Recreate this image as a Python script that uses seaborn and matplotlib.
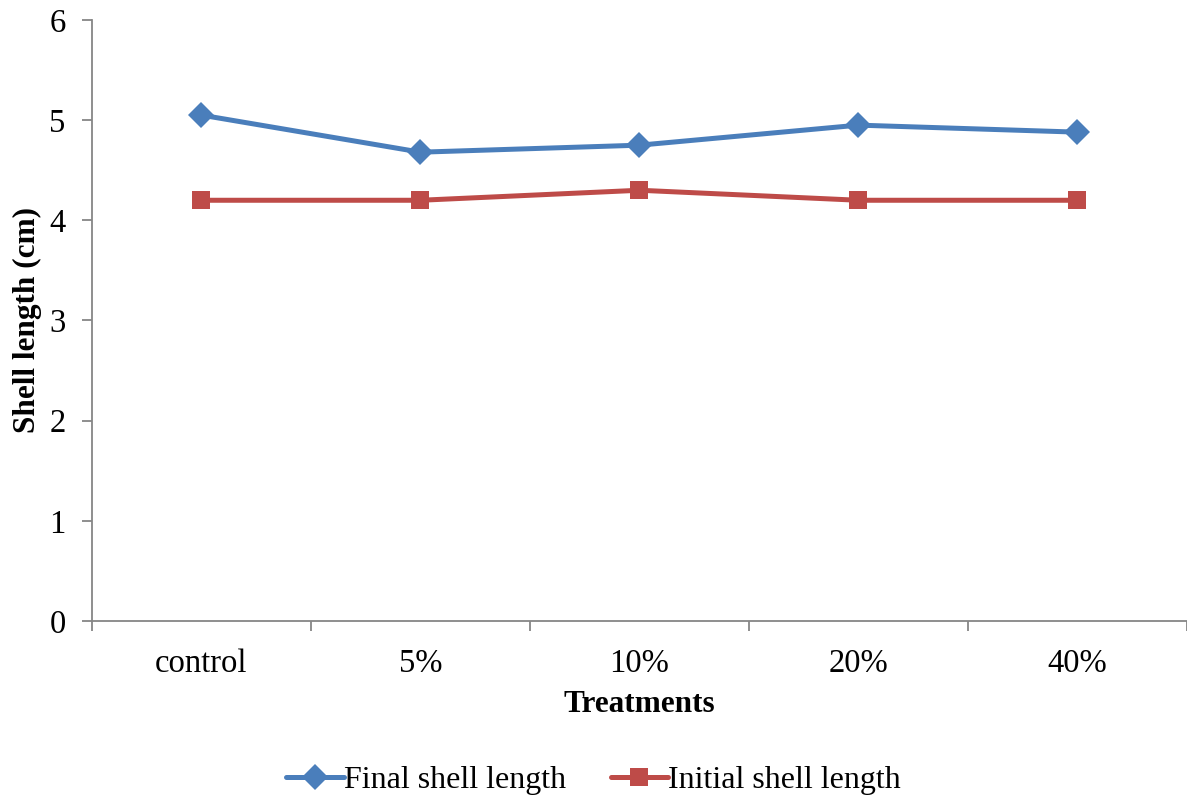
import pandas as pd
import numpy as np
import matplotlib.pyplot as plt
import seaborn as sns

treatments = ['control', '5%', '10%', '20%', '40%']
final_length = [5.05, 4.68, 4.75, 4.95, 4.88]
initial_length = [4.2, 4.2, 4.3, 4.2, 4.2]

sns.set_style('white')
plt.rcParams['font.family'] = ['Liberation Serif', 'DejaVu Serif']
plt.rcParams['text.color'] = 'black'
plt.rcParams['axes.labelcolor'] = 'black'
plt.rcParams['xtick.color'] = 'black'
plt.rcParams['ytick.color'] = 'black'

df = pd.DataFrame({
    'Treatments': treatments * 2,
    'Shell length (cm)': final_length + initial_length,
    'series': ['Final shell length'] * 5 + ['Initial shell length'] * 5,
})

fig = plt.figure(figsize=(11.87, 7.98), dpi=100)
ax = fig.add_axes([0.0775, 0.2218, 0.9225, 0.7532])

sns.lineplot(data=df, x='Treatments', y='Shell length (cm)', hue='series', style='series',
             markers={'Final shell length': 'D', 'Initial shell length': 's'}, dashes=False,
             palette={'Final shell length': '#4A7EBB', 'Initial shell length': '#BE4B48'},
             linewidth=3.6, markersize=13.5, markeredgewidth=0, ax=ax)

ax.set_ylim(0, 6)
ax.set_xlim(-0.5, 4.5)
ax.set_yticks(range(7))
ax.set_xticks(range(5))
ax.set_xticks(np.arange(-0.5, 4.6, 1), minor=True)
ax.tick_params(axis='x', which='major', length=0, labelsize=23.5, pad=20)
ax.tick_params(axis='x', which='minor', length=7, width=1.3, color='#868686', direction='out', bottom=True)
ax.tick_params(axis='y', length=7, width=1.3, color='#868686', labelcolor='black', direction='out',
               labelsize=23.5, left=True, pad=12)

for s in ['top', 'right']:
    ax.spines[s].set_visible(False)
for s in ['left', 'bottom']:
    ax.spines[s].set_color('#868686')
    ax.spines[s].set_linewidth(1.3)

ax.set_xlabel('Treatments', fontsize=22.5, fontweight='bold', labelpad=8)
ax.set_ylabel('Shell length (cm)', fontsize=22.5, fontweight='bold', labelpad=5)

handles, labels = ax.get_legend_handles_labels()
ax.legend(handles, labels, loc='lower center', bbox_to_anchor=(0.5, -0.012), bbox_transform=fig.transFigure,
          ncol=2, frameon=False, fontsize=23, handlelength=1.8, handletextpad=0.0, columnspacing=1.4,
          borderaxespad=0.0)

plt.savefig('out.png', dpi=100)
